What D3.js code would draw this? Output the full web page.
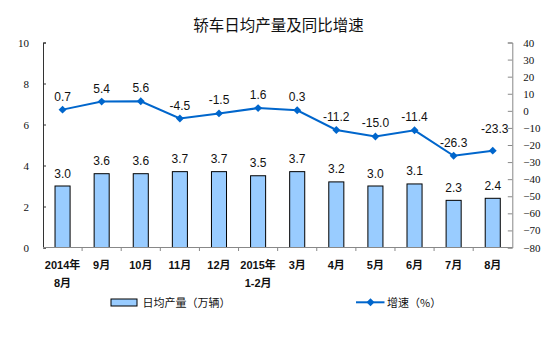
<!DOCTYPE html>
<html>
<head>
<meta charset="utf-8">
<script src="https://cdn.jsdelivr.net/npm/d3@7/dist/d3.min.js"></script>
<style>
  html, body { margin: 0; padding: 0; background: #fff; }
  svg { display: block; }
</style>
</head>
<body>
<svg id="chart" width="554" height="344"></svg>
<script>
// Monthly sedan output: daily average (10k units) and year-on-year growth (%)
const categories = [
  ["2014年", "8月"], ["9月"], ["10月"], ["11月"], ["12月"], ["2015年", "1-2月"],
  ["3月"], ["4月"], ["5月"], ["6月"], ["7月"], ["8月"]
];
const dailyOutput = [3.0, 3.6, 3.6, 3.7, 3.7, 3.5, 3.7, 3.2, 3.0, 3.1, 2.3, 2.4];
const growthRate = [0.7, 5.4, 5.6, -4.5, -1.5, 1.6, 0.3, -11.2, -15.0, -11.4, -26.3, -23.3];
const leftTicks = [0, 2, 4, 6, 8, 10];
const rightTicks = [40, 30, 20, 10, 0, -10, -20, -30, -40, -50, -60, -70, -80];

const titleText = "轿车日均产量及同比增速";
const barLegend = "日均产量（万辆）";
const lineLegend = "增速（%）";

const svg = d3.select("#chart");
const plot = { left: 43, right: 512.3, top: 42.5, bottom: 247.5 };
const numFont = "'Liberation Sans', Arial, sans-serif";
const axisFont = "'Liberation Serif', 'Times New Roman', serif";
const cjkFont = "'Liberation Sans', 'Noto Sans CJK SC', sans-serif";
const lineColor = "#0066CC";

const idx = d3.range(categories.length);
const x = d3.scaleBand().domain(idx).range([plot.left, plot.right]).padding(0);
const yL = d3.scaleLinear().domain([0, 10]).range([plot.bottom, plot.top]);
const yR = d3.scaleLinear().domain([-80, 40]).range([plot.bottom, plot.top]);

// Title
svg.append("text")
  .attr("x", 278.5).attr("y", 31)
  .attr("text-anchor", "middle")
  .attr("font-family", "'Noto Sans CJK SC', sans-serif")
  .attr("font-size", 15.5)
  .attr("fill", "#111")
  .text(titleText);

// Bars
const barW = x.bandwidth() * 0.385;
svg.append("g").selectAll("rect")
  .data(dailyOutput)
  .join("rect")
  .attr("x", (d, i) => x(i) + x.bandwidth() / 2 - barW / 2)
  .attr("y", d => yL(d))
  .attr("width", barW)
  .attr("height", d => yL(0) - yL(d))
  .attr("fill", "#99CCFF")
  .attr("stroke", "#000")
  .attr("stroke-width", 1);

// Bar value labels
svg.append("g").selectAll("text")
  .data(dailyOutput)
  .join("text")
  .attr("x", (d, i) => x(i) + x.bandwidth() / 2)
  .attr("y", d => yL(d) - 8.5)
  .attr("text-anchor", "middle")
  .attr("font-family", numFont)
  .attr("font-size", 12)
  .attr("fill", "#111")
  .text(d => d.toFixed(1));

// Left axis
const gL = svg.append("g").attr("transform", `translate(${plot.left},0)`)
  .call(d3.axisLeft(yL).tickValues(leftTicks).tickSize(-3).tickPadding(14).tickFormat(d3.format("d")));
gL.select(".domain").attr("stroke", "#333");
gL.selectAll(".tick line").attr("stroke", "#333");
gL.selectAll(".tick text").attr("font-family", axisFont).attr("font-size", 11).attr("fill", "#111");

// Right axis
const gR = svg.append("g").attr("transform", `translate(${plot.right},0)`)
  .call(d3.axisRight(yR).tickValues(rightTicks).tickSize(-4.5).tickPadding(11).tickFormat(d3.format("d")));
gR.select(".domain").attr("stroke", "#888");
gR.selectAll(".tick line").attr("stroke", "#888");
gR.selectAll(".tick text").attr("font-family", axisFont).attr("font-size", 11).attr("fill", "#111");

// Category axis: baseline, boundary ticks, two-line labels
svg.append("line")
  .attr("x1", plot.left).attr("x2", plot.right)
  .attr("y1", plot.bottom).attr("y2", plot.bottom)
  .attr("stroke", "#888");
svg.append("g").selectAll("line")
  .data(idx.slice(1))
  .join("line")
  .attr("x1", i => x(i)).attr("x2", i => x(i))
  .attr("y1", plot.bottom).attr("y2", plot.bottom + 3.5)
  .attr("stroke", "#888");
const catLabels = svg.append("g").selectAll("text")
  .data(categories)
  .join("text")
  .attr("text-anchor", "middle")
  .attr("font-family", cjkFont)
  .attr("font-size", 11)
  .attr("font-weight", "bold")
  .attr("fill", "#111");
catLabels.each(function (lines, i) {
  const t = d3.select(this);
  lines.forEach((s, k) => {
    t.append("tspan")
      .attr("x", x(i) + x.bandwidth() / 2)
      .attr("y", 269 + k * 17.5)
      .text(s);
  });
});

// Growth line with diamond markers
const line = d3.line()
  .x((d, i) => x(i) + x.bandwidth() / 2)
  .y(d => yR(d));
svg.append("path")
  .datum(growthRate)
  .attr("d", line)
  .attr("fill", "none")
  .attr("stroke", lineColor)
  .attr("stroke-width", 2);
const diamond = d3.symbol().type(d3.symbolDiamond2).size(40);
svg.append("g").selectAll("path")
  .data(growthRate)
  .join("path")
  .attr("transform", (d, i) => `translate(${x(i) + x.bandwidth() / 2},${yR(d)})`)
  .attr("d", diamond)
  .attr("fill", lineColor);

// Growth value labels (last one sits higher, clear of the line)
svg.append("g").selectAll("text")
  .data(growthRate)
  .join("text")
  .attr("x", (d, i) => x(i) + x.bandwidth() / 2 + (i === growthRate.length - 1 ? 2 : 0))
  .attr("y", (d, i) => yR(d) - (i === growthRate.length - 1 ? 18 : 9))
  .attr("text-anchor", "middle")
  .attr("font-family", numFont)
  .attr("font-size", 12)
  .attr("fill", "#111")
  .text(d => d.toFixed(1));

// Legend
const lg = svg.append("g");
lg.append("rect")
  .attr("x", 111).attr("y", 299).attr("width", 26).attr("height", 7)
  .attr("fill", "#99CCFF").attr("stroke", "#000");
lg.append("text")
  .attr("x", 142.5).attr("y", 306.5)
  .attr("font-family", "'Noto Sans CJK SC', sans-serif").attr("font-size", 11).attr("fill", "#111")
  .text(barLegend);
lg.append("line")
  .attr("x1", 356).attr("x2", 384.5).attr("y1", 302.3).attr("y2", 302.3)
  .attr("stroke", lineColor).attr("stroke-width", 2);
lg.append("path")
  .attr("transform", "translate(370.5,302.3)")
  .attr("d", diamond)
  .attr("fill", lineColor);
lg.append("text")
  .attr("x", 387).attr("y", 306.5)
  .attr("font-family", "'Noto Sans CJK SC', sans-serif").attr("font-size", 11).attr("fill", "#111")
  .text(lineLegend);
</script>
</body>
</html>
